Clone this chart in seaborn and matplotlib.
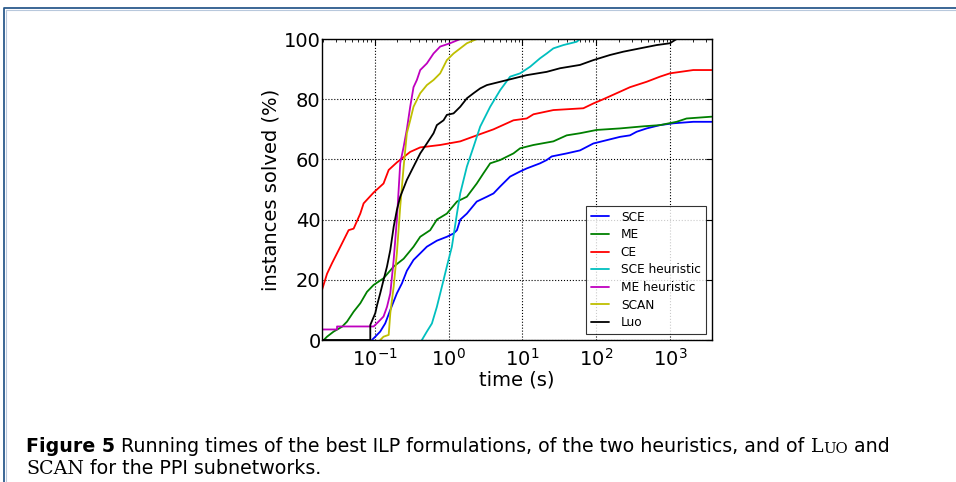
import matplotlib
matplotlib.use("Agg")
import matplotlib.pyplot as plt
import seaborn as sns
import pandas as pd
from matplotlib.lines import Line2D

# Tiempos (s) y porcentaje de instancias resueltas
sce_t = [0.092, 0.102, 0.119, 0.139, 0.163, 0.200, 0.234, 0.273, 0.336, 0.414, 0.509, 0.695,
         0.949, 1.17, 1.30, 1.44, 1.77, 2.41, 3.30, 4.06, 4.99, 6.81, 9.30, 11.4, 17.3, 21.3,
         24.9, 39.7, 60.1, 91.1, 138, 209, 285, 351, 479, 725, 1098, 2046, 3620]
sce_p = [0, 1.1, 2.8, 5.5, 10, 15.5, 18.8, 23, 26.6, 28.8, 31, 33,
         34.3, 35.4, 36.5, 40, 42, 46, 47.6, 48.7, 51, 54.3, 56, 57, 58.7, 59.8,
         61, 62, 63, 65.3, 66.4, 67.5, 68, 69.2, 70.3, 71.4, 72, 72.5, 72.5]

me_t = [0.0205, 0.0227, 0.0279, 0.0362, 0.0423, 0.052, 0.064, 0.0788, 0.097, 0.132, 0.181,
        0.247, 0.336, 0.414, 0.565, 0.695, 0.949, 1.30, 1.77, 2.41, 2.97, 3.66, 4.99, 7.56,
        9.30, 14.1, 26.2, 39.7, 60.1, 101, 209, 432, 725, 1218, 1663, 3620]
me_p = [0, 1.1, 2.8, 4.4, 6.1, 9.4, 12.2, 16, 18.3, 20.5, 24.4,
        27, 31, 34.3, 36.5, 40, 42, 46, 47.6, 52, 55.4, 58.7, 59.8, 62,
        63.7, 64.8, 66, 68, 68.7, 69.8, 70.3, 71, 71.4, 72.5, 73.6, 74.2]

ce_t = [0.0194, 0.0227, 0.0265, 0.0344, 0.0445, 0.052, 0.064, 0.071, 0.097, 0.132, 0.155,
        0.200, 0.303, 0.414, 0.771, 1.44, 2.41, 4.06, 7.56, 11.4, 14.1, 26.2, 66.7, 91.1,
        124, 209, 285, 479, 725, 989, 2046, 3620]
ce_p = [16.6, 22, 25.5, 31, 36.5, 37, 42, 45.4, 49, 52, 56.5,
        59, 62.5, 64, 64.8, 66, 68, 70, 73, 73.6, 75, 76.4, 77, 78.6,
        80, 82.5, 84, 85.8, 87.5, 88.6, 89.7, 89.7]

sceh_t = [0.436, 0.509, 0.596, 0.695, 0.813, 0.949, 1.11, 1.30, 1.44, 1.77, 2.18, 2.68,
          3.66, 4.99, 6.81, 9.30, 12.7, 17.3, 21.3, 26.2, 35.8, 54.2, 60.1, 124]
sceh_p = [0, 2.8, 5.5, 11, 17.7, 24.4, 31, 42, 48.7, 57.6, 64.2, 70.9,
          77.5, 83, 87.5, 88.6, 90.8, 93.6, 95.2, 96.9, 98, 99.1, 100, 100]

meh_t = [0.0194, 0.031, 0.031, 0.097, 0.113, 0.132, 0.147, 0.163, 0.181, 0.200, 0.222, 0.247,
         0.273, 0.303, 0.336, 0.373, 0.414, 0.509, 0.627, 0.771, 1.05, 1.44]
meh_p = [3.5, 3.5, 4.5, 4.5, 6.1, 7.8, 11, 15.5, 26.6, 40, 58.7, 64.2,
         70, 77.5, 84, 86.4, 89.7, 91.9, 95.2, 97.5, 98.6, 100]

scan_t = [0.119, 0.132, 0.155, 0.163, 0.181, 0.200, 0.222, 0.247, 0.273, 0.303, 0.336,
          0.414, 0.509, 0.627, 0.771, 0.856, 0.949, 1.17, 1.44, 1.77, 2.41, 3.30]
scan_p = [0, 1.1, 1.7, 8.9, 17.7, 28.8, 44.3, 57.6, 68.7, 73, 77.5,
          82, 84.7, 86.4, 88.6, 90.8, 93, 95.2, 96.9, 98.6, 100, 100]

luo_t = [0.0194, 0.0874, 0.0874, 0.102, 0.108, 0.119, 0.132, 0.147, 0.163, 0.181, 0.200, 0.222,
         0.273, 0.336, 0.414, 0.509, 0.627, 0.695, 0.856, 0.949, 1.17, 1.44, 1.77, 2.18,
         2.68, 3.30, 4.99, 7.56, 11.4, 21.3, 32.3, 60.1, 91.1, 153, 232, 389, 654, 989,
         1218, 3620]
luo_p = [0, 0, 5, 8.9, 11.6, 15.5, 19.9, 24.4, 29.9, 37.6, 43.2, 47.6,
         53.2, 57.6, 62, 65.3, 68.7, 71.4, 73, 74.8, 75.3, 77.5, 80.3, 82,
         83.6, 84.7, 85.8, 86.9, 88, 89.1, 90.3, 91.4, 93, 94.7, 95.8, 96.9, 98, 98.6,
         100, 100]

metodos = ['SCE', 'ME', 'CE', 'SCE heuristic', 'ME heuristic', 'SCAN', 'Luo']
colores = ['#0000ff', '#008000', '#ff0000', '#00bfbf', '#bf00bf', '#bfbf00', '#000000']
series = [(sce_t, sce_p), (me_t, me_p), (ce_t, ce_p), (sceh_t, sceh_p),
          (meh_t, meh_p), (scan_t, scan_p), (luo_t, luo_p)]

frames = []
for nombre, (t, p) in zip(metodos, series):
    frames.append(pd.DataFrame({'time': t, 'pct': p, 'method': nombre}))
df = pd.concat(frames, ignore_index=True)

sns.set_style('white', {'text.color': 'black', 'axes.labelcolor': 'black',
                        'xtick.color': 'black', 'ytick.color': 'black'})
plt.rcParams['font.family'] = ['DejaVu Sans']

fig = plt.figure(figsize=(9.56, 4.82), dpi=100)
ax = fig.add_axes([0.3368, 0.2946, 0.4075, 0.6244])

sns.lineplot(data=df, x='time', y='pct', hue='method', hue_order=metodos,
             palette=colores, estimator=None, sort=False, linewidth=1.3, ax=ax)

ax.set_xscale('log')
ax.set_xlim(0.0194, 3620)
ax.set_ylim(0, 100)
ax.set_yticks([0, 20, 40, 60, 80, 100])
ax.grid(True, which='major', linestyle=':', color='black', linewidth=0.8)
ax.tick_params(which='both', direction='in', top=True, right=True, labelsize=14,
               color='black', labelcolor='black')
ax.tick_params(which='major', length=4, width=0.8)
ax.tick_params(axis='y', which='major', pad=1)
ax.tick_params(axis='x', which='major', pad=6)
ax.tick_params(which='minor', length=2, width=0.6)
for s in ax.spines.values():
    s.set_color('black')
    s.set_linewidth(1.0)
ax.set_xlabel('time (s)', fontsize=14, labelpad=0, color='black')
ax.set_ylabel('instances solved (%)', fontsize=14, labelpad=2, color='black')

leg = ax.legend(loc='lower right', fontsize=8.7, handlelength=1.5, handletextpad=1.0,
                frameon=True, fancybox=False, borderaxespad=0.5, labelspacing=0.38,
                borderpad=0.4)
leg.get_frame().set_edgecolor('black')
leg.get_frame().set_linewidth(0.8)
for txt in leg.get_texts():
    txt.set_color('black')

# Marco de la figura (solo arriba e izquierda)
fig.add_artist(Line2D([4 / 956, 4 / 956, 1.0], [0.0, 1 - 8 / 482, 1 - 8 / 482],
                      transform=fig.transFigure, color='#2b5b8c', linewidth=1.3))
fig.add_artist(Line2D([6 / 956, 6 / 956, 1.0], [0.0, 1 - 10 / 482, 1 - 10 / 482],
                      transform=fig.transFigure, color='#b8c8dc', linewidth=0.8))

# Leyenda de la figura
fs = 13.7
t1 = fig.text(26 / 956, 1 - 452 / 482, 'Figure 5', fontsize=fs, fontweight='bold',
              va='baseline', color='black')
t2 = ax.annotate(' Running times of the best ILP formulations, of the two heuristics, and of ',
                 xy=(1, 0), xycoords=t1, va='bottom', fontsize=fs, color='black',
                 annotation_clip=False)
t3 = ax.annotate('L', xy=(1, 0), xycoords=t2, va='bottom', fontsize=fs, color='black',
                 family='DejaVu Serif', annotation_clip=False)
t4 = ax.annotate('UO', xy=(1, 0), xycoords=t3, va='bottom', fontsize=fs * 0.78,
                 color='black', family='DejaVu Serif', annotation_clip=False)
t5 = ax.annotate(' and', xy=(1, 0), xycoords=t4, va='bottom', fontsize=fs,
                 color='black', annotation_clip=False)
t6 = fig.text(26 / 956, 1 - 474 / 482, 'SCAN', fontsize=fs, family='DejaVu Serif',
              va='baseline', color='black')
t7 = ax.annotate(' for the PPI subnetworks.', xy=(1, 0), xycoords=t6, va='bottom',
                 fontsize=fs, color='black', annotation_clip=False)

fig.savefig('out.png', dpi=100)
